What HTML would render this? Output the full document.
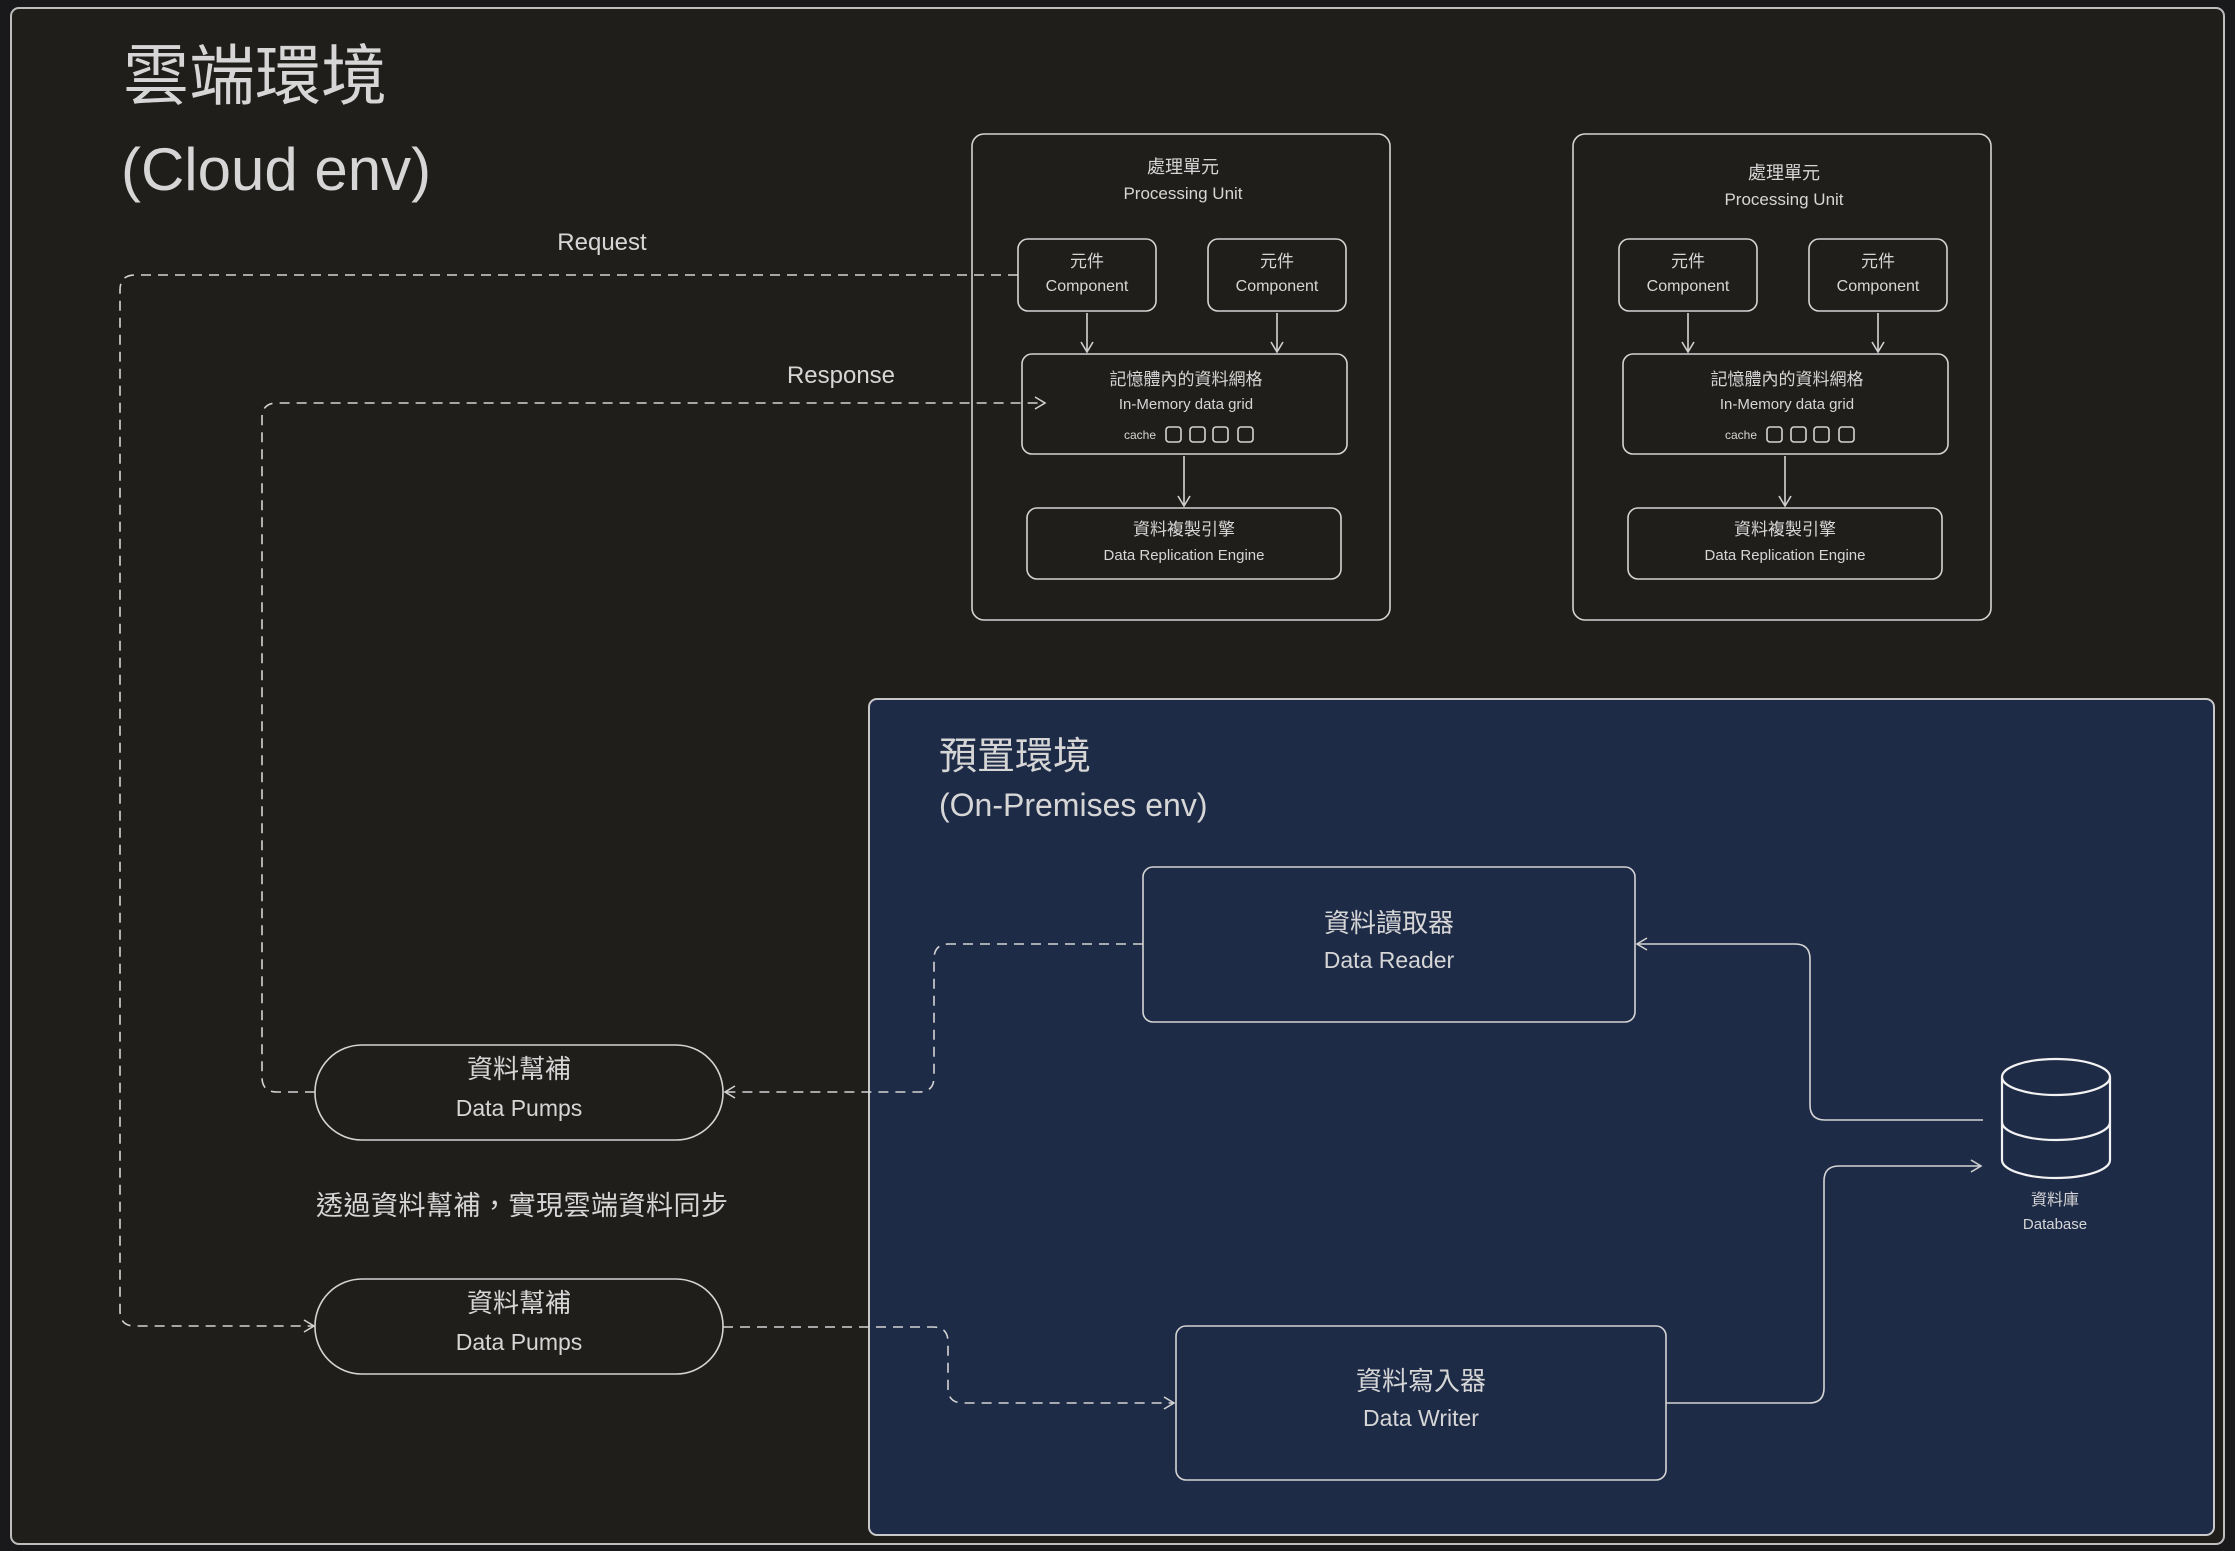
<!DOCTYPE html>
<html><head><meta charset="utf-8"><style>
html,body{margin:0;padding:0;background:#19191b;}
svg{display:block}
text{font-family:"Liberation Sans","Noto Sans CJK TC",sans-serif;fill:#d6d6d6;}
</style></head><body>
<svg width="2235" height="1551" viewBox="0 0 2235 1551" xmlns="http://www.w3.org/2000/svg">
<defs>
<marker id="a" markerWidth="14" markerHeight="14" refX="12" refY="7" orient="auto" markerUnits="userSpaceOnUse">
<path d="M2,1 L12,7 L2,13" fill="none" stroke="#d0d0d0" stroke-width="1.6"/></marker>
</defs>
<rect x="0" y="0" width="2235" height="1551" fill="#19191b"/>
<rect x="11" y="8" width="2213" height="1536" rx="8" fill="#201e1b" stroke="#bdbdbd" stroke-width="2"/>
<text x="123" y="99" font-size="66">雲端環境</text>
<text x="121" y="190" font-size="60">(Cloud env)</text>

<rect x="869" y="699" width="1345" height="836" rx="8" fill="#1e2b47" stroke="#c8c8c8" stroke-width="2"/>
<text x="939" y="769" font-size="38">預置環境</text>
<text x="939" y="816" font-size="32">(On-Premises env)</text>

<g fill="none" stroke="#d4d4d4" stroke-width="1.6">
<rect x="972" y="134" width="418" height="486" rx="12"/>
<rect x="1018" y="239" width="138" height="72" rx="10"/>
<rect x="1208" y="239" width="138" height="72" rx="10"/>
<rect x="1022" y="354" width="325" height="100" rx="10"/>
<rect x="1027" y="508" width="314" height="71" rx="10"/>
<rect x="1166" y="427" width="15" height="15" rx="3"/><rect x="1190" y="427" width="15" height="15" rx="3"/><rect x="1213" y="427" width="15" height="15" rx="3"/><rect x="1238" y="427" width="15" height="15" rx="3"/>
<line x1="1087" y1="313" x2="1087" y2="352" marker-end="url(#a)"/>
<line x1="1277" y1="313" x2="1277" y2="352" marker-end="url(#a)"/>
<line x1="1184" y1="456" x2="1184" y2="506" marker-end="url(#a)"/>
<g transform="translate(601,0)">
<rect x="972" y="134" width="418" height="486" rx="12"/>
<rect x="1018" y="239" width="138" height="72" rx="10"/>
<rect x="1208" y="239" width="138" height="72" rx="10"/>
<rect x="1022" y="354" width="325" height="100" rx="10"/>
<rect x="1027" y="508" width="314" height="71" rx="10"/>
<rect x="1166" y="427" width="15" height="15" rx="3"/><rect x="1190" y="427" width="15" height="15" rx="3"/><rect x="1213" y="427" width="15" height="15" rx="3"/><rect x="1238" y="427" width="15" height="15" rx="3"/>
<line x1="1087" y1="313" x2="1087" y2="352" marker-end="url(#a)"/>
<line x1="1277" y1="313" x2="1277" y2="352" marker-end="url(#a)"/>
<line x1="1184" y1="456" x2="1184" y2="506" marker-end="url(#a)"/>
</g>
<rect x="315" y="1045" width="408" height="95" rx="47"/>
<rect x="315" y="1279" width="408" height="95" rx="47"/>
<rect x="1143" y="867" width="492" height="155" rx="10"/>
<rect x="1176" y="1326" width="490" height="154" rx="10"/>
<g stroke-dasharray="10 7">
<path d="M1018,275 L135,275 Q120,275 120,290 L120,1311 Q120,1326 135,1326 L314,1326" marker-end="url(#a)"/>
<path d="M315,1092 L277,1092 Q262,1092 262,1077 L262,418 Q262,403 277,403 L1045,403" marker-end="url(#a)"/>
<path d="M1143,944 L949,944 Q934,944 934,959 L934,1077 Q934,1092 919,1092 L725,1092" marker-end="url(#a)"/>
<path d="M723,1327 L933,1327 Q948,1327 948,1342 L948,1388 Q948,1403 963,1403 L1174,1403" marker-end="url(#a)"/>
</g>
<path d="M1983,1120 L1825,1120 Q1810,1120 1810,1105 L1810,959 Q1810,944 1795,944 L1637,944" marker-end="url(#a)"/>
<path d="M1666,1403 L1809,1403 Q1824,1403 1824,1388 L1824,1181 Q1824,1166 1839,1166 L1981,1166" marker-end="url(#a)"/>
</g>
<g fill="none" stroke="#f2f2f2" stroke-width="2.2">
<ellipse cx="2056" cy="1077" rx="54" ry="18"/>
<path d="M2002,1077 L2002,1160 A54,18 0 0 0 2110,1160 L2110,1077"/>
<path d="M2002,1122 A54,18 0 0 0 2110,1122"/>
</g>
<text x="2055" y="1205" font-size="16" text-anchor="middle">資料庫</text>
<text x="2055" y="1229" font-size="15" text-anchor="middle">Database</text>

<g font-size="17" text-anchor="middle">
<text x="1183" y="173" font-size="18">處理單元</text>
<text x="1183" y="199" font-size="17">Processing Unit</text>
<text x="1087" y="267">元件</text><text x="1087" y="291" font-size="16">Component</text>
<text x="1277" y="267">元件</text><text x="1277" y="291" font-size="16">Component</text>
<text x="1186" y="385">記憶體內的資料網格</text>
<text x="1186" y="409" font-size="15">In-Memory data grid</text>
<text x="1140" y="439" font-size="12">cache</text>
<text x="1184" y="535">資料複製引擎</text>
<text x="1184" y="560" font-size="15">Data Replication Engine</text>
</g>
<g font-size="17" text-anchor="middle" transform="translate(601,0)">
<text x="1183" y="179" font-size="18">處理單元</text>
<text x="1183" y="205" font-size="17">Processing Unit</text>
<text x="1087" y="267">元件</text><text x="1087" y="291" font-size="16">Component</text>
<text x="1277" y="267">元件</text><text x="1277" y="291" font-size="16">Component</text>
<text x="1186" y="385">記憶體內的資料網格</text>
<text x="1186" y="409" font-size="15">In-Memory data grid</text>
<text x="1140" y="439" font-size="12">cache</text>
<text x="1184" y="535">資料複製引擎</text>
<text x="1184" y="560" font-size="15">Data Replication Engine</text>
</g>

<text x="602" y="250" font-size="24" text-anchor="middle">Request</text>
<text x="841" y="383" font-size="24" text-anchor="middle">Response</text>

<g font-size="26" text-anchor="middle">
<text x="519" y="1078">資料幫補</text><text x="519" y="1116" font-size="23">Data Pumps</text>
<text x="519" y="1312">資料幫補</text><text x="519" y="1350" font-size="23">Data Pumps</text>
<text x="1389" y="932">資料讀取器</text><text x="1389" y="968" font-size="23">Data Reader</text>
<text x="1421" y="1390">資料寫入器</text><text x="1421" y="1426" font-size="23">Data Writer</text>
</g>
<text x="316" y="1215" font-size="27" letter-spacing="0.5">透過資料幫補，實現雲端資料同步</text>
</svg>
</body></html>
